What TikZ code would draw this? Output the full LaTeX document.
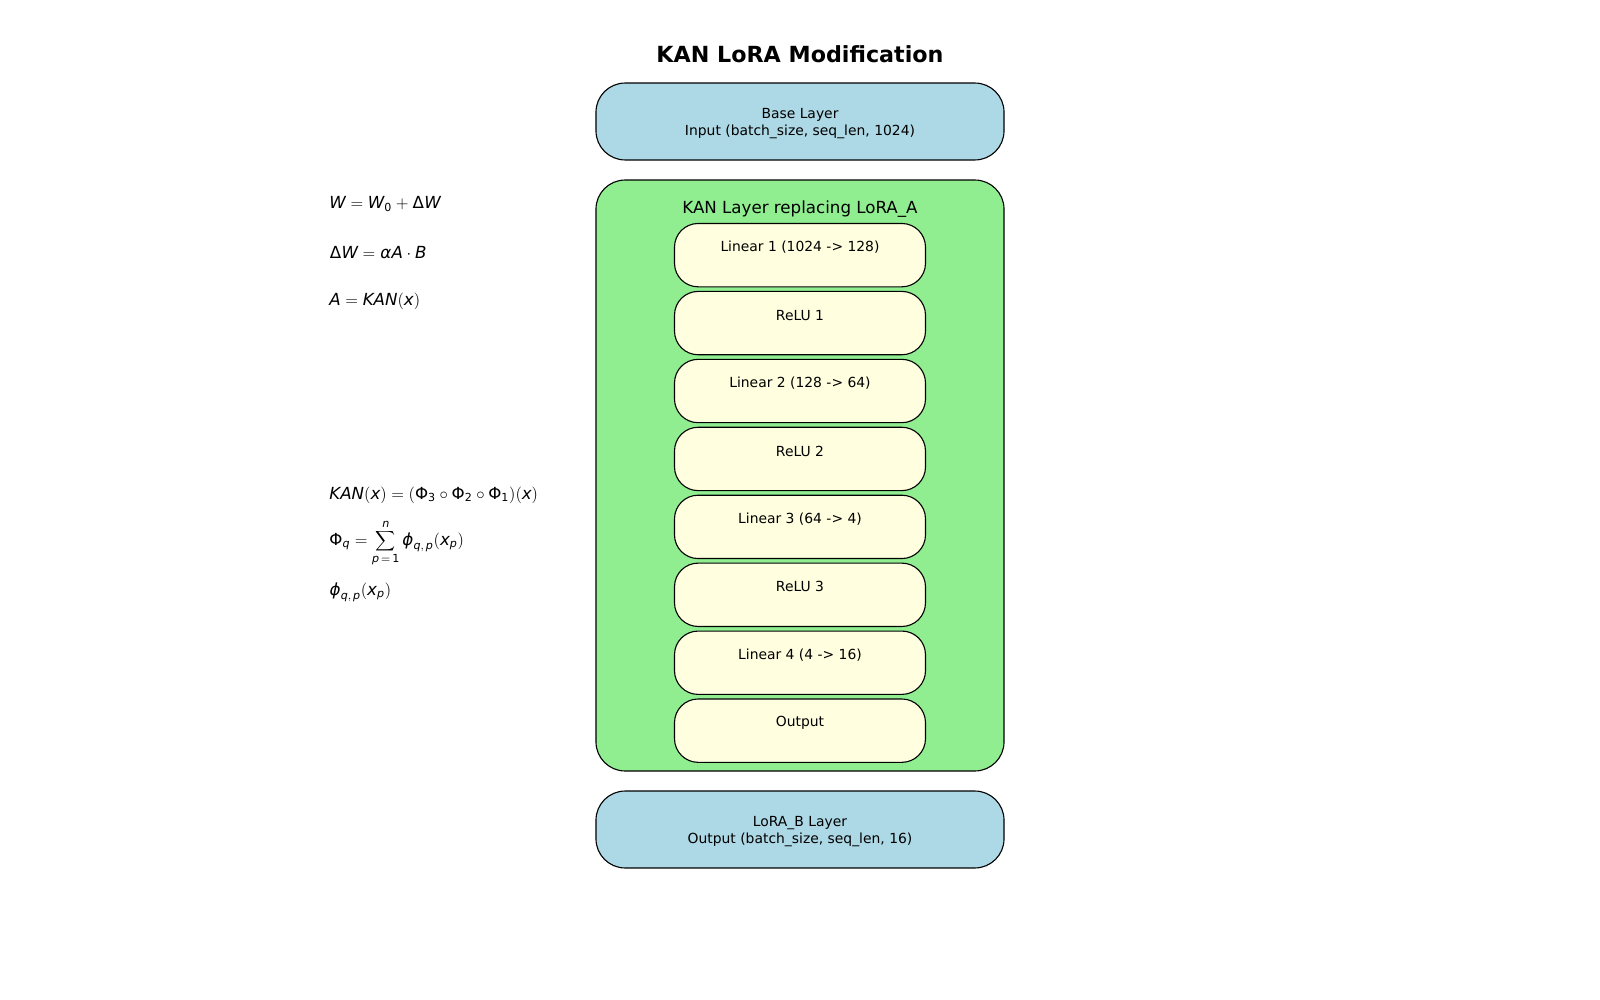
\documentclass[tikz,border=0pt]{standalone}
\usepackage{mathspec}
\setallmainfonts(Digits,Latin,Greek){DejaVu Sans}
\setmainfont{DejaVu Sans}

\definecolor{baseblue}{HTML}{ADD8E6}
\definecolor{kangreen}{HTML}{90EE90}
\definecolor{cellyellow}{HTML}{FFFFE0}

\tikzset{
  iobox/.style={draw, line width=0.8pt, fill=baseblue, rounded corners=21pt,
    minimum width=293.8pt, minimum height=55.4pt},
  iotext/.style={align=center, font=\fontsize{10}{11.8}\selectfont},
  kanbox/.style={draw, line width=0.8pt, fill=kangreen, rounded corners=21pt,
    minimum width=293.8pt, minimum height=425.5pt},
  cellbox/.style={draw, line width=0.8pt, fill=cellyellow, rounded corners=17pt,
    minimum width=180.7pt, minimum height=45.6pt},
  formula/.style={anchor=west, font=\fontsize{12}{14}\selectfont}
}

\begin{document}
\begin{tikzpicture}[x=0.72pt, y=-0.72pt]
  \useasboundingbox (0,0) rectangle (1600,1000);
  % title
  \node[font=\fontsize{16}{19}\selectfont\bfseries] (title) at (800,54) {KAN LoRA Modification};
  % input / output layers
  \node[iobox] (base) at (800,121.5) {};
  \node[iotext] (base-txt) at (800,123.5) {Base Layer\\Input (batch\_size, seq\_len, 1024)};
  \node[iobox] (lorab) at (800,829.5) {};
  \node[iotext] (lorab-txt) at (800,831.5) {LoRA\_B Layer\\Output (batch\_size, seq\_len, 16)};
  % KAN block
  \node[kanbox] (kan) at (800,475.5) {};
  \node[font=\fontsize{12}{14}\selectfont] (kanlabel) at (800,209) {KAN Layer replacing LoRA\_A};
  \foreach \name/\txt [count=\i from 0] in {lin1/Linear 1 (1024 -> 128), relu1/ReLU 1,
      lin2/Linear 2 (128 -> 64), relu2/ReLU 2, lin3/Linear 3 (64 -> 4), relu3/ReLU 3,
      lin4/Linear 4 (4 -> 16), out/Output} {
    \node[cellbox] (\name) at (800,{255.15+67.93*\i}) {};
    \node[font=\fontsize{10}{12}\selectfont] (\name-txt) at ([yshift=-17.5pt]\name.north) {\txt};
  }
  % formulas
  \node[formula] (eqw) at (324.5,204) {$W = W_0 + \Delta W$};
  \node[formula] (eqdw) at (324.5,253) {$\Delta W = \alpha A \cdot B$};
  \node[formula] (eqa) at (324.5,301) {$A = KAN(x)$};
  \node[formula] (eqkan) at (324.5,495) {$KAN(x) = (\Phi_3 \circ \Phi_2 \circ \Phi_1)(x)$};
  \node[formula] (eqphi) at (324.5,543) {$\Phi_q = \displaystyle\sum_{p\,=\,1}^{n} \varphi_{q,\,p}(x_p)$};
  \node[formula] (eqphiqp) at (324.5,592) {$\varphi_{q,\,p}(x_p)$};
\end{tikzpicture}
\end{document}
